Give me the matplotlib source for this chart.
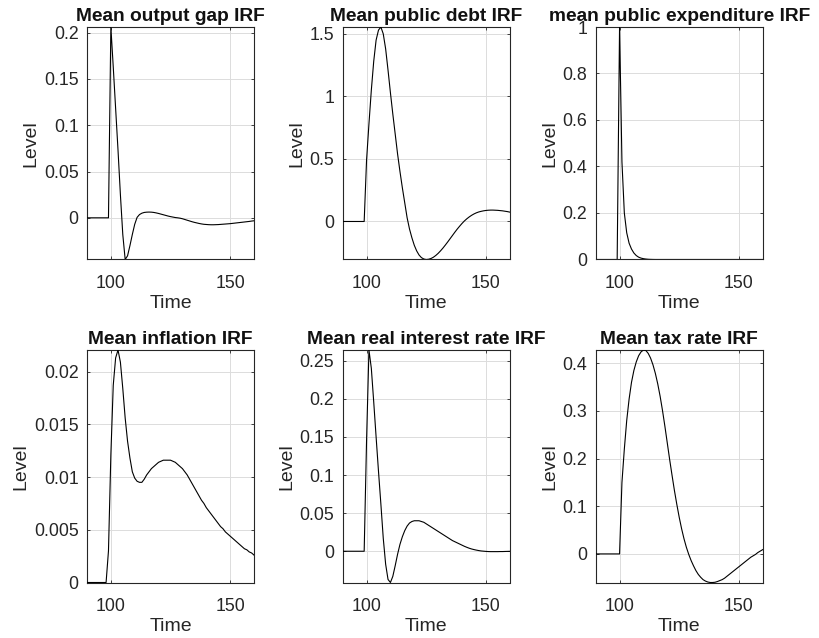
import matplotlib
matplotlib.use('Agg')
import matplotlib.pyplot as plt
import matplotlib.ticker as mticker
import numpy as np

plt.rcParams['font.family'] = ['Liberation Sans', 'DejaVu Sans']

# periods 90..160, shock hits at t = 100
time = np.arange(90, 161)

output_gap = [
    0, 0, 0, 0, 0, 0, 0, 0, 0, 0,
    0.206, 0.163, 0.118, 0.073, 0.025, -0.018, -0.045, -0.041, -0.030, -0.018,
    -0.007, 0.0005, 0.0035, 0.0050, 0.0058, 0.0061, 0.0062, 0.0061, 0.0058, 0.0053,
    0.0047, 0.0040, 0.0033, 0.0026, 0.0019, 0.0013, 0.0008, 0.0003, 0.0, -0.0004,
    -0.0010, -0.0018, -0.0026, -0.0034, -0.0042, -0.0049, -0.0055, -0.0061, -0.0066, -0.0070,
    -0.0072, -0.0074, -0.0075, -0.0075, -0.0074, -0.0073, -0.0071, -0.0069, -0.0067, -0.0065,
    -0.0063, -0.0060, -0.0057, -0.0054, -0.0051, -0.0048, -0.0045, -0.0042, -0.0039, -0.0035,
    -0.0032]

public_debt = [
    0, 0, 0, 0, 0, 0, 0, 0, 0, 0,
    0.49, 0.78, 1.05, 1.28, 1.45, 1.53, 1.555, 1.50, 1.38, 1.21,
    1.03, 0.86, 0.70, 0.54, 0.40, 0.27, 0.15, 0.03, -0.06, -0.13,
    -0.19, -0.235, -0.268, -0.289, -0.300, -0.304, -0.302, -0.296, -0.286, -0.272,
    -0.255, -0.235, -0.213, -0.189, -0.164, -0.138, -0.112, -0.086, -0.061, -0.038,
    -0.016, 0.004, 0.021, 0.036, 0.049, 0.060, 0.069, 0.076, 0.081, 0.085,
    0.088, 0.090, 0.091, 0.091, 0.090, 0.089, 0.087, 0.085, 0.082, 0.079,
    0.075]

public_exp = [
    0, 0, 0, 0, 0, 0, 0, 0, 0, 0,
    1.0, 0.42, 0.20, 0.115, 0.07, 0.045, 0.028, 0.017, 0.010, 0.006,
    0.0035, 0.002, 0.001, 0.0005, 0.0002, 0, 0, 0, 0, 0,
    0, 0, 0, 0, 0, 0, 0, 0, 0, 0,
    0, 0, 0, 0, 0, 0, 0, 0, 0, 0,
    0, 0, 0, 0, 0, 0, 0, 0, 0, 0,
    0, 0, 0, 0, 0, 0, 0, 0, 0, 0,
    0]

inflation = [
    0, 0, 0, 0, 0, 0, 0, 0, 0, 0.003,
    0.0121, 0.0187, 0.0213, 0.02205, 0.0209, 0.0184, 0.0156, 0.0134, 0.0118, 0.0105,
    0.0099, 0.0096, 0.0095, 0.0095, 0.0098, 0.0102, 0.0105, 0.0108, 0.0110, 0.0112,
    0.0114, 0.0115, 0.0116, 0.0116, 0.0116, 0.0116, 0.0115, 0.0114, 0.0112, 0.0110,
    0.0108, 0.0105, 0.0102, 0.0098, 0.0094, 0.0090, 0.0086, 0.0082, 0.0078, 0.0075,
    0.0071, 0.0068, 0.0065, 0.0062, 0.0059, 0.0056, 0.0053, 0.0051, 0.0048, 0.0046,
    0.0044, 0.0042, 0.0040, 0.0038, 0.0036, 0.0034, 0.0032, 0.0031, 0.0029, 0.0028,
    0.0026]

real_rate = [
    0, 0, 0, 0, 0, 0, 0, 0, 0, 0,
    0.145, 0.264, 0.24, 0.196, 0.15, 0.105, 0.062, 0.017, -0.017, -0.037,
    -0.041, -0.033, -0.019, -0.004, 0.009, 0.019, 0.027, 0.033, 0.037, 0.039,
    0.040, 0.040, 0.040, 0.039, 0.038, 0.036, 0.034, 0.032, 0.030, 0.028,
    0.026, 0.024, 0.022, 0.020, 0.018, 0.016, 0.014, 0.0125, 0.011, 0.0095,
    0.008, 0.0065, 0.0052, 0.004, 0.003, 0.0022, 0.0015, 0.0009, 0.0004, 0.0001,
    -0.0002, -0.0004, -0.0005, -0.0005, -0.0005, -0.0005, -0.0004, -0.0004, -0.0003, -0.0002,
    -0.0001]

tax_rate = [
    0, 0, 0, 0, 0, 0, 0, 0, 0, 0,
    0.0, 0.15, 0.22, 0.28, 0.325, 0.36, 0.385, 0.403, 0.416, 0.424,
    0.428, 0.427, 0.421, 0.411, 0.397, 0.379, 0.357, 0.331, 0.301, 0.268,
    0.233, 0.198, 0.165, 0.133, 0.104, 0.077, 0.053, 0.032, 0.014, -0.001,
    -0.014, -0.025, -0.035, -0.043, -0.049, -0.054, -0.057, -0.059, -0.060, -0.060,
    -0.0595, -0.058, -0.056, -0.054, -0.051, -0.047, -0.043, -0.039, -0.035, -0.031,
    -0.027, -0.023, -0.019, -0.015, -0.011, -0.007, -0.004, -0.001, 0.003, 0.006,
    0.009]

panels = [
    ("Mean output gap IRF", output_gap, 0.05),
    ("Mean public debt IRF", public_debt, 0.5),
    ("mean public expenditure IRF", public_exp, 0.2),
    ("Mean inflation IRF", inflation, 0.005),
    ("Mean real interest rate IRF", real_rate, 0.05),
    ("Mean tax rate IRF", tax_rate, 0.1),
]

W, H = 820, 638
fig = plt.figure(figsize=(W / 100, H / 100), dpi=100)

# subplot boxes in pixels
col_left = [87, 342.7, 595.7]
row_top = [27, 350]
ax_w, ax_h = 167, 232.5

ink = '#262626'
for i, (title, vals, ystep) in enumerate(panels):
    row, col = divmod(i, 3)
    rect = [col_left[col] / W, 1 - (row_top[row] + ax_h) / H, ax_w / W, ax_h / H]
    ax = fig.add_axes(rect)
    vals = np.asarray(vals, dtype=float)

    ax.plot(time, vals, color='k', lw=0.8, zorder=3)

    ax.set_xlim(90, 160)
    ax.set_ylim(vals.min(), vals.max())
    ax.set_xticks([100, 150])
    ax.yaxis.set_major_locator(mticker.MultipleLocator(ystep))
    ax.yaxis.set_major_formatter(mticker.FormatStrFormatter('%g'))

    ax.grid(True, color='#dcdcdc', lw=0.7)
    ax.set_axisbelow(True)
    for sp in ax.spines.values():
        sp.set_color(ink)
        sp.set_linewidth(0.8)
    ax.tick_params(which='both', direction='in', top=True, right=True,
                   length=2.5, width=0.6, color=ink, labelcolor=ink,
                   labelsize=12.8)
    ax.tick_params(axis='x', pad=11)
    ax.tick_params(axis='y', pad=6)

    ax.set_title(title, fontsize=13.8, fontweight='bold', pad=4.5, color='#111111')
    ax.set_xlabel("Time", fontsize=14, color=ink, labelpad=2)
    ax.set_ylabel("Level", fontsize=14, color=ink, labelpad=3)

fig.savefig('out.png', dpi=100, facecolor='white')
